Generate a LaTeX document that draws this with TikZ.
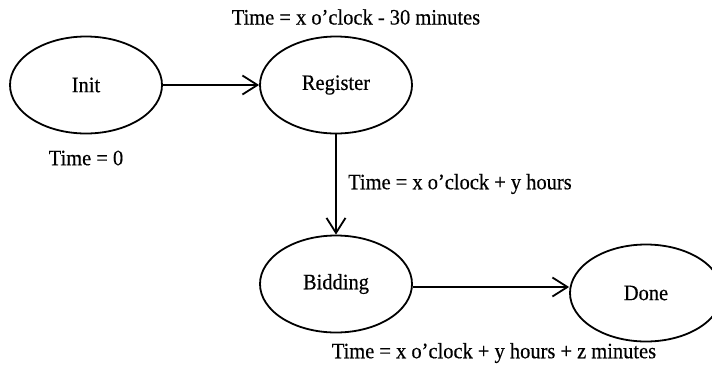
\documentclass[tikz,border=0pt]{standalone}
\usepackage{fontspec}
\setmainfont[FakeStretch=0.93,FakeBold=0.4]{Liberation Serif}
\usetikzlibrary{shapes.geometric,arrows.meta,calc}
\begin{document}
\begin{tikzpicture}[x=1pt,y=-1pt,
  state/.style={ellipse,draw,line width=1.8pt,inner sep=0pt,minimum width=152pt,minimum height=97pt,font=\fontsize{22}{26}\selectfont},
  lbl/.style={inner sep=0pt,font=\fontsize{22}{26}\selectfont},
  conn/.style={line width=1.8pt,-{Straight Barb[length=15pt,width=19pt,line width=1.8pt]}}]
\useasboundingbox (0,0) rectangle (712,365);
\clip (0,0) rectangle (712,365);
\node[state] (init) at (86,85) {Init};
\node[state] (reg) at (336,85) {Register};
\node[state] (bid) at (336,284) {Bidding};
\node[state] (done) at (646,293) {Done};
\node[lbl] (l0) at (86,158) {Time = 0};
\node[lbl] (l1) at (356,17) {Time = x o’clock - 30 minutes};
\node[lbl,anchor=west] (l2) at (348,184) {Time = x o’clock + y hours};
\node[lbl] (l3) at (494,353) {Time = x o’clock + y hours + z minutes};
\draw[conn] (init.east) -- (init.east -| reg.west);
\draw[conn] (reg.south) -- (bid.north);
\draw[conn] ($(bid.east)+(0,3)$) -- ($(bid.east -| done.west)+(0,3)$);
\end{tikzpicture}
\end{document}
